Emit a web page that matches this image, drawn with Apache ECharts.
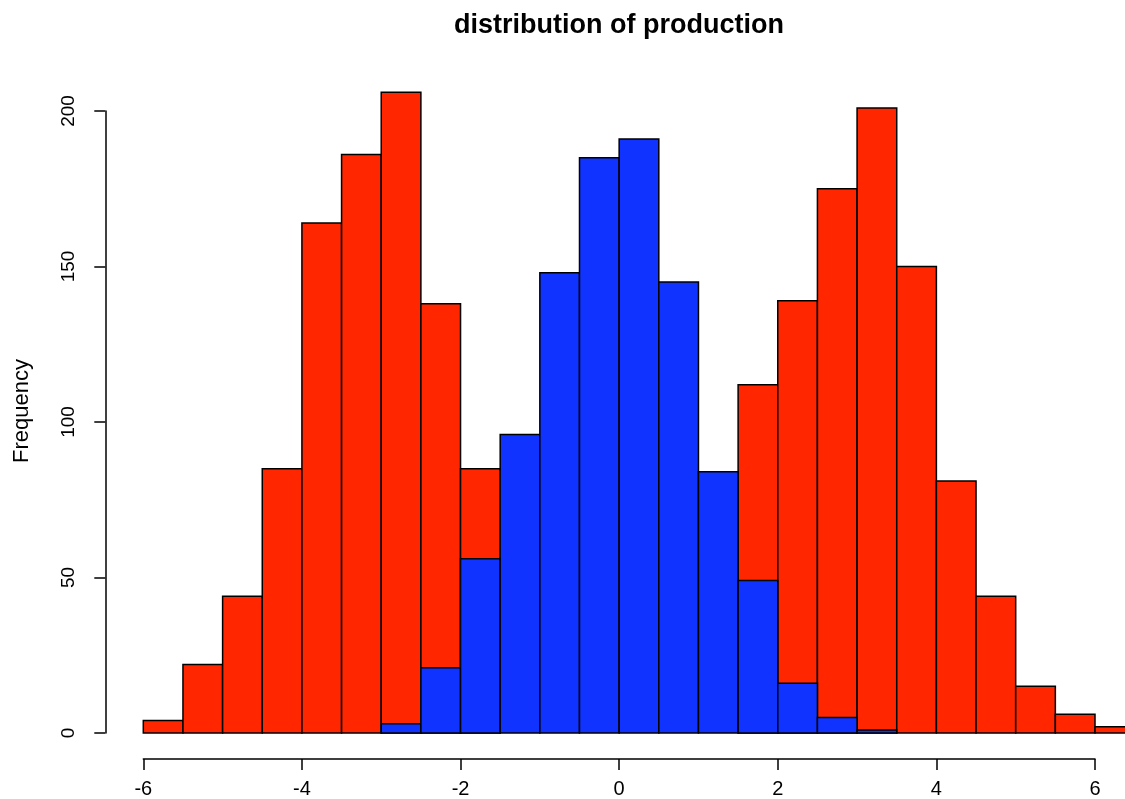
<!DOCTYPE html>
<html>
<head>
<meta charset="utf-8">
<script src="https://cdn.jsdelivr.net/npm/echarts@6/dist/echarts.min.js"></script>
<style>
html,body{margin:0;padding:0;background:#fff;}
#chart{width:1125px;height:799px;}
</style>
</head>
<body>
<div id="chart"></div>
<script>
// Histogram bins (left edge of each 0.5-wide bin)
const binStarts = [-6,-5.5,-5,-4.5,-4,-3.5,-3,-2.5,-2,-1.5,-1,-0.5,0,0.5,1,1.5,2,2.5,3,3.5,4,4.5,5,5.5,6];
const binWidth = 0.5;
// Red histogram counts (drawn first)
const redCounts = [4,22,44,85,164,186,206,138,85,0,0,0,0,0,0,112,139,175,201,150,81,44,15,6,2];
// Blue histogram counts (drawn on top)
const blueCounts = [0,0,0,0,0,0,3,21,56,96,148,185,191,145,84,49,16,5,1,0,0,0,0,0,0];
const xTicks = [-6,-4,-2,0,2,4,6];
const yTicks = [0,50,100,150,200];
const titleText = 'distribution of production';
const yName = 'Frequency';

const FONT = '"Liberation Sans", Arial, Helvetica, sans-serif';

function histSeries(name, counts, color) {
  return {
    type: 'custom',
    name: name,
    clip: false,
    data: binStarts.map((s, i) => [s, counts[i]]),
    renderItem: function (params, api) {
      const s = api.value(0), v = api.value(1);
      if (!v) return null;
      const p0 = api.coord([s, v]);
      const p1 = api.coord([s + binWidth, 0]);
      return {
        type: 'rect',
        shape: { x: p0[0], y: p0[1], width: p1[0] - p0[0], height: p1[1] - p0[1] },
        style: { fill: color, stroke: '#000', lineWidth: 1.5 }
      };
    }
  };
}

const chart = echarts.init(document.getElementById('chart'), null, { renderer: 'canvas' });
chart.setOption({
  animation: false,
  backgroundColor: '#fff',
  title: {
    text: titleText,
    left: 614,
    top: 7,
    textAlign: 'center',
    textStyle: { fontFamily: FONT, fontWeight: 'bold', fontSize: 27, color: '#000' }
  },
  grid: { left: 143.3, top: 111, width: 951.7, height: 622, containLabel: false },
  xAxis: {
    type: 'value',
    min: xTicks[0], max: xTicks[xTicks.length - 1], interval: 2,
    offset: 26,
    axisLine: { show: true, onZero: false, lineStyle: { color: '#000', width: 1.5 } },
    axisTick: { show: true, length: 11, lineStyle: { color: '#000', width: 1.5 } },
    axisLabel: { margin: 20, color: '#000', fontSize: 20, fontFamily: FONT },
    splitLine: { show: false }
  },
  yAxis: {
    type: 'value',
    min: yTicks[0], max: yTicks[yTicks.length - 1], interval: 50,
    offset: 38,
    name: yName,
    nameLocation: 'middle',
    nameRotate: 90,
    nameGap: 72,
    nameTextStyle: { fontFamily: FONT, fontSize: 22, color: '#000', padding: [0, 0, 0, 22] },
    axisLine: { show: true, onZero: false, lineStyle: { color: '#000', width: 1.5 } },
    axisTick: { show: true, length: 11, lineStyle: { color: '#000', width: 1.5 } },
    axisLabel: { margin: 27, rotate: 90, color: '#000', fontSize: 19, fontFamily: FONT },
    splitLine: { show: false }
  },
  series: [
    histSeries('red', redCounts, '#FF2600'),
    histSeries('blue', blueCounts, '#1033FF')
  ]
});
</script>
</body>
</html>
